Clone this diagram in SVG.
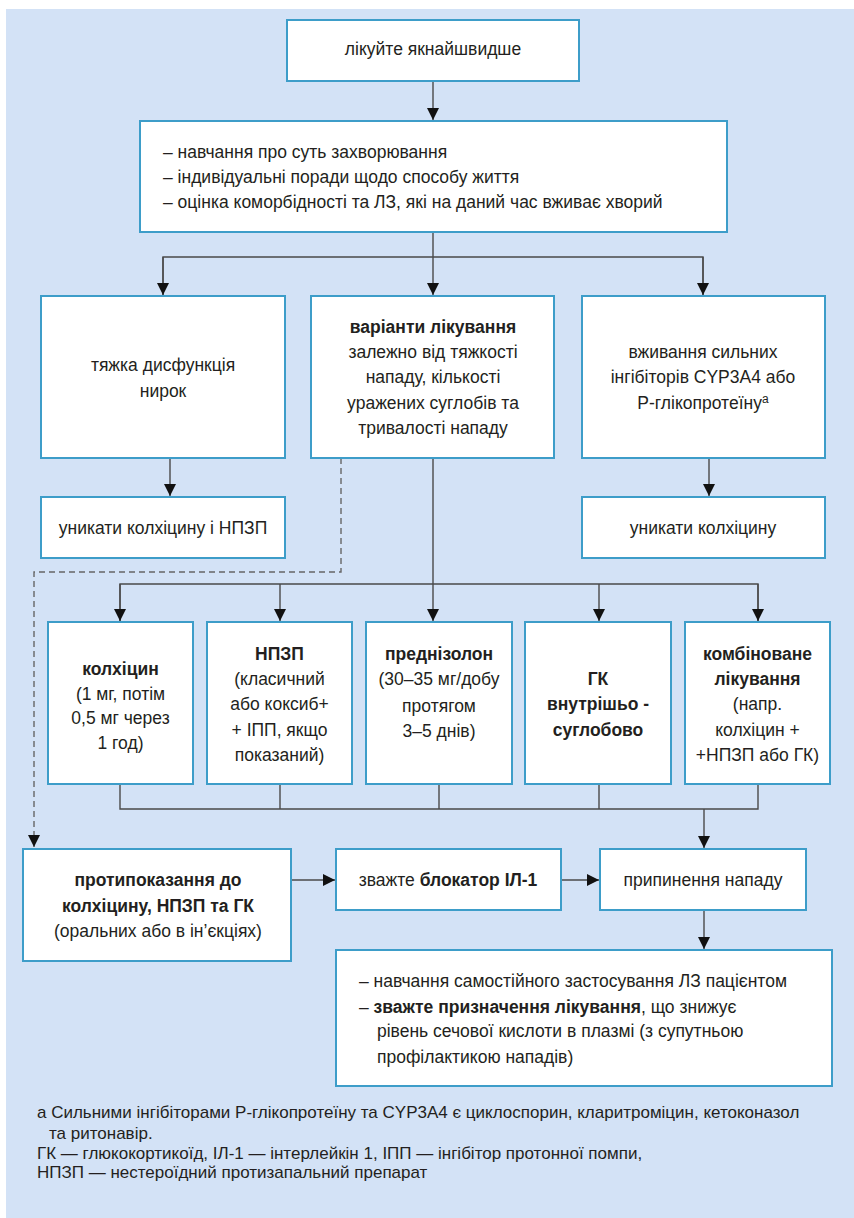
<svg xmlns="http://www.w3.org/2000/svg" width="854" height="1218" viewBox="0 0 854 1218">
  <style>
    .panel { fill: #d3e2f6; }
    .box { fill: #ffffff; stroke: #3d9dc9; stroke-width: 2; }
    .t { font-family: "Liberation Sans", Arial, sans-serif; font-size: 17.5px; fill: #231f20; }
    .c { text-anchor: middle; }
    .b { font-weight: bold; }
    .fn { font-family: "Liberation Sans", Arial, sans-serif; font-size: 17px; fill: #231f20; }
    .ln { fill: none; stroke: #4a4a4a; stroke-width: 1.4; }
    .dash { stroke-dasharray: 6 4; stroke: #666; }
  </style>
  <defs>
    <marker id="ah" viewBox="0 0 12 12" markerWidth="12" markerHeight="12" refX="12" refY="6" orient="auto" markerUnits="userSpaceOnUse">
      <path d="M0,0 L12,6 L0,12 z" fill="#111"/>
    </marker>
  </defs>

  <rect class="panel" x="6" y="9" width="848" height="1209"/>

  <!-- connectors -->
  <g id="connectors">
    <line class="ln" x1="433" y1="81" x2="433" y2="120" marker-end="url(#ah)"/>
    <polyline class="ln" points="433,232 433,257"/>
    <polyline class="ln" points="163,295 163,257 703,257 703,295"/>
    <line class="ln" x1="163" y1="257" x2="163" y2="295" marker-end="url(#ah)"/>
    <line class="ln" x1="433" y1="257" x2="433" y2="295" marker-end="url(#ah)"/>
    <line class="ln" x1="703" y1="257" x2="703" y2="295" marker-end="url(#ah)"/>
    <line class="ln" x1="170" y1="458" x2="170" y2="496" marker-end="url(#ah)"/>
    <line class="ln" x1="709" y1="458" x2="709" y2="496" marker-end="url(#ah)"/>
    <polyline class="ln dash" points="341,458 341,572 34,572 34,847" marker-end="url(#ah)"/>
    <line class="ln" x1="433" y1="458" x2="433" y2="584"/>
    <polyline class="ln" points="120,621 120,584 758,584 758,621"/>
    <line class="ln" x1="120" y1="584" x2="120" y2="621" marker-end="url(#ah)"/>
    <line class="ln" x1="280" y1="584" x2="280" y2="621" marker-end="url(#ah)"/>
    <line class="ln" x1="433" y1="584" x2="433" y2="621" marker-end="url(#ah)"/>
    <line class="ln" x1="599" y1="584" x2="599" y2="621" marker-end="url(#ah)"/>
    <line class="ln" x1="758" y1="584" x2="758" y2="621" marker-end="url(#ah)"/>
    <polyline class="ln" points="120,784 120,809 758,809 758,784"/>
    <line class="ln" x1="280" y1="784" x2="280" y2="809"/>
    <line class="ln" x1="439" y1="784" x2="439" y2="809"/>
    <line class="ln" x1="599" y1="784" x2="599" y2="809"/>
    <line class="ln" x1="704" y1="809" x2="704" y2="848" marker-end="url(#ah)"/>
    <line class="ln" x1="291" y1="880" x2="335" y2="880" marker-end="url(#ah)"/>
    <line class="ln" x1="561" y1="880" x2="599" y2="880" marker-end="url(#ah)"/>
    <line class="ln" x1="704" y1="910" x2="704" y2="949" marker-end="url(#ah)"/>
  </g>

  <g id="start">
    <rect class="box" x="287" y="20" width="292" height="61"/>
    <text class="t c" x="433" y="55">лікуйте якнайшвидше</text>
  </g>

  <g id="general">
    <rect class="box" x="140" y="121" width="587" height="111"/>
    <text class="t" x="163" y="158">– навчання про суть захворювання</text>
    <text class="t" x="163" y="183">– індивідуальні поради щодо способу життя</text>
    <text class="t" x="163" y="208">– оцінка коморбідності та ЛЗ, які на даний час вживає хворий</text>
  </g>

  <g id="renal">
    <rect class="box" x="41" y="296" width="244" height="162"/>
    <text class="t c" x="163" y="371">тяжка дисфункція</text>
    <text class="t c" x="163" y="397">нирок</text>
  </g>

  <g id="options">
    <rect class="box" x="311" y="296" width="243" height="162"/>
    <text class="t c b" x="433" y="333">варіанти лікування</text>
    <text class="t c" x="433" y="358">залежно від тяжкості</text>
    <text class="t c" x="433" y="383">нападу, кількості</text>
    <text class="t c" x="433" y="409">уражених суглобів та</text>
    <text class="t c" x="433" y="434">тривалості нападу</text>
  </g>

  <g id="inhibitors">
    <rect class="box" x="582" y="296" width="243" height="162"/>
    <text class="t c" x="703" y="358">вживання сильних</text>
    <text class="t c" x="703" y="383">інгібіторів CYP3A4 або</text>
    <text class="t c" x="703" y="409">Р-глікопротеїну<tspan font-size="12" dy="-6">a</tspan></text>
  </g>

  <g id="avoid-both">
    <rect class="box" x="41" y="497" width="244" height="61"/>
    <text class="t c" x="163" y="534">уникати колхіцину і НПЗП</text>
  </g>

  <g id="avoid-colchicine">
    <rect class="box" x="582" y="497" width="243" height="61"/>
    <text class="t c" x="703" y="534">уникати колхіцину</text>
  </g>

  <g id="colchicine">
    <rect class="box" x="48" y="622" width="145" height="162"/>
    <text class="t c b" x="120.5" y="675">колхіцин</text>
    <text class="t c" x="120.5" y="700">(1 мг, потім</text>
    <text class="t c" x="120.5" y="724">0,5 мг через</text>
    <text class="t c" x="120.5" y="749">1 год)</text>
  </g>

  <g id="nsaid">
    <rect class="box" x="207" y="622" width="145" height="162"/>
    <text class="t c b" x="279.5" y="660">НПЗП</text>
    <text class="t c" x="279.5" y="685">(класичний</text>
    <text class="t c" x="279.5" y="710">або коксиб+</text>
    <text class="t c" x="279.5" y="736">+ ІПП, якщо</text>
    <text class="t c" x="279.5" y="761">показаний)</text>
  </g>

  <g id="prednisolone">
    <rect class="box" x="366" y="622" width="146" height="162"/>
    <text class="t c b" x="439" y="660">преднізолон</text>
    <text class="t c" x="439" y="685">(30–35 мг/добу</text>
    <text class="t c" x="439" y="712">протягом</text>
    <text class="t c" x="439" y="737">3–5 днів)</text>
  </g>

  <g id="intraarticular">
    <rect class="box" x="525" y="622" width="146" height="162"/>
    <text class="t c b" x="598" y="685">ГК</text>
    <text class="t c b" x="598" y="710">внутрішьо -</text>
    <text class="t c b" x="598" y="736">суглобово</text>
  </g>

  <g id="combined">
    <rect class="box" x="685" y="622" width="145" height="162"/>
    <text class="t c b" x="757.5" y="660">комбіноване</text>
    <text class="t c b" x="757.5" y="685">лікування</text>
    <text class="t c" x="757.5" y="710">(напр.</text>
    <text class="t c" x="757.5" y="736">колхіцин +</text>
    <text class="t c" x="757.5" y="761">+НПЗП або ГК)</text>
  </g>

  <g id="contraindications">
    <rect class="box" x="23" y="849" width="268" height="112"/>
    <text class="t c b" x="158" y="886">протипоказання до</text>
    <text class="t c b" x="158" y="912">колхіцину, НПЗП та ГК</text>
    <text class="t c" x="158" y="937">(оральних або в ін’єкціях)</text>
  </g>

  <g id="il1">
    <rect class="box" x="336" y="849" width="225" height="61"/>
    <text class="t c" x="448" y="886">зважте <tspan class="b">блокатор ІЛ-1</tspan></text>
  </g>

  <g id="resolution">
    <rect class="box" x="600" y="849" width="206" height="61"/>
    <text class="t c" x="703" y="886">припинення нападу</text>
  </g>

  <g id="follow-up">
    <rect class="box" x="336" y="950" width="496" height="136"/>
    <text class="t" x="359" y="987">– навчання самостійного застосування ЛЗ пацієнтом</text>
    <text class="t" x="359" y="1013">– <tspan class="b">зважте призначення лікування</tspan>, що знижує</text>
    <text class="t" x="377" y="1037">рівень сечової кислоти в плазмі (з супутньою</text>
    <text class="t" x="377" y="1063">профілактикою  нападів)</text>
  </g>

  <g id="footnotes">
    <text class="fn" x="37" y="1118">a Сильними інгібіторами Р-глікопротеїну та CYP3A4 є циклоспорин, кларитроміцин, кетоконазол</text>
    <text class="fn" x="49" y="1139">та ритонавір.</text>
    <text class="fn" x="37" y="1159">ГК — глюкокортикоїд, ІЛ-1 — інтерлейкін 1, ІПП — інгібітор протонної помпи,</text>
    <text class="fn" x="37" y="1178">НПЗП — нестероїдний протизапальний препарат</text>
  </g>
</svg>
